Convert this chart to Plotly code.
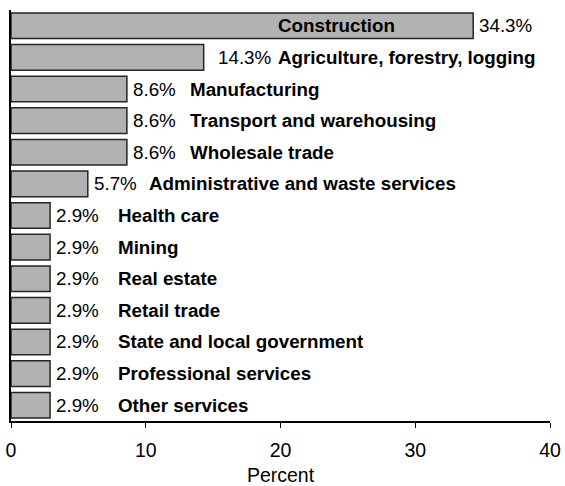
import plotly.graph_objects as go

categories = ["Construction", "Agriculture, forestry, logging", "Manufacturing",
              "Transport and warehousing", "Wholesale trade",
              "Administrative and waste services", "Health care", "Mining",
              "Real estate", "Retail trade", "State and local government",
              "Professional services", "Other services"]
values = [34.3, 14.3, 8.6, 8.6, 8.6, 5.7, 2.9, 2.9, 2.9, 2.9, 2.9, 2.9, 2.9]
x_ticks = [0, 10, 20, 30, 40]

# pixel offsets of the labels relative to the bar end (style only)
value_shift = [4, 12, 4, 4, 4, 4, 4, 4, 4, 4, 4, 4, 4]
name_shift = [-197, 72, 61, 61, 61, 59, 66, 66, 66, 66, 66, 66, 66]

FONT = "Liberation Sans, Arial, sans-serif"

fig = go.Figure()
fig.add_trace(go.Bar(
    x=values, y=categories, orientation="h",
    marker=dict(color="#b2b2b2", line=dict(color="#262626", width=1.5)),
    hoverinfo="skip",
))

annotations = []
for cat, val, vs, sh in zip(categories, values, value_shift, name_shift):
    annotations.append(dict(
        x=val, y=cat, xref="x", yref="y", xanchor="left", yanchor="middle",
        text=f"{val:.1f}%", showarrow=False, xshift=vs,
        font=dict(family=FONT, size=18.8, color="#000000"),
    ))
    annotations.append(dict(
        x=val, y=cat, xref="x", yref="y", xanchor="left", yanchor="middle",
        text=f"<b>{cat}</b>", showarrow=False, xshift=sh,
        font=dict(family=FONT, size=18.8, color="#000000"),
    ))

fig.update_layout(
    width=565, height=486,
    margin=dict(l=11, r=15, t=10, b=65, autoexpand=False),
    paper_bgcolor="white", plot_bgcolor="white",
    bargap=0.19,
    showlegend=False,
    annotations=annotations,
    font=dict(family=FONT, size=19.5, color="#000000"),
)
fig.update_xaxes(
    automargin=False,
    range=[0, 40], tickvals=x_ticks, ticktext=[str(t) for t in x_ticks],
    showgrid=False, zeroline=False,
    showline=True, linecolor="#000000", linewidth=2,
    ticks="outside", ticklen=5, tickcolor="#000000", tickwidth=1,
    ticklabelstandoff=6,
    tickfont=dict(family=FONT, size=19.5, color="#000000"),
    title=dict(text="Percent", font=dict(family=FONT, size=19.5, color="#000000"), standoff=14),
)
fig.update_yaxes(
    automargin=False,
    categoryorder="array", categoryarray=categories,
    range=[len(categories) - 0.5, -0.5],
    showticklabels=False, showgrid=False, zeroline=False,
    showline=True, linecolor="#000000", linewidth=2, ticks="",
)

fig.write_html(
    "out.html",
    config={"displayModeBar": False, "staticPlot": True},
    post_script="document.body.style.margin='0';document.body.style.overflow='hidden';",
)
